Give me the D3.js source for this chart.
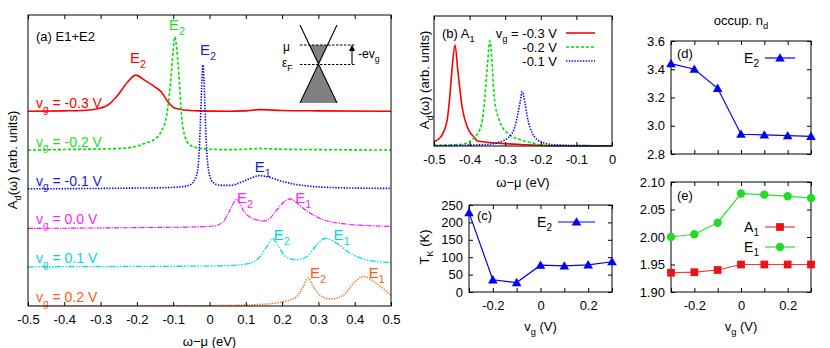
<!DOCTYPE html>
<html>
<head>
<meta charset="utf-8">
<script src="https://cdn.jsdelivr.net/npm/d3@7/dist/d3.min.js"></script>
<style>
  body { margin: 0; background: #fff; }
  text { font-family: "Liberation Sans", Arial, sans-serif; }
</style>
</head>
<body>
<div id="chart"></div>
<script>
// ---- panel (a): A_d(w) for E1+E2, one curve per gate voltage [w, A] ----
const vgLabelsA = ["-0.3", "-0.2", "-0.1", "0.0", "0.1", "0.2"];
const specVm03 = [[-0.5,0.02],[-0.4,0.03],[-0.35,0.04],[-0.316,0.07],[-0.28,0.18],[-0.252,0.44],[-0.225,0.78],[-0.203,0.95],[-0.179,0.82],[-0.151,0.65],[-0.133,0.52],[-0.114,0.26],[-0.096,0.1],[-0.068,0.05],[-0.03,0.03],[0.05,0.02],[0.1,0.03],[0.139,0.06],[0.2,0.04],[0.3,0.03],[0.5,0.02]];
const specVm02 = [[-0.5,0.02],[-0.35,0.04],[-0.25,0.06],[-0.2,0.12],[-0.179,0.19],[-0.151,0.3],[-0.133,0.5],[-0.118,0.92],[-0.107,1.78],[-0.1,2.6],[-0.095,2.94],[-0.09,2.6],[-0.083,1.78],[-0.077,0.92],[-0.067,0.35],[-0.054,0.15],[-0.035,0.08],[-0.017,0.05],[0.05,0.03],[0.1,0.04],[0.139,0.06],[0.2,0.04],[0.3,0.03],[0.5,0.02]];
const specVm01 = [[-0.5,0.02],[-0.3,0.03],[-0.2,0.04],[-0.12,0.05],[-0.08,0.07],[-0.054,0.12],[-0.035,0.38],[-0.028,1.06],[-0.024,2.0],[-0.021,2.8],[-0.018,3.21],[-0.015,2.8],[-0.012,2.0],[-0.008,1.06],[0.0,0.38],[0.01,0.18],[0.03,0.11],[0.056,0.11],[0.09,0.2],[0.115,0.3],[0.139,0.36],[0.165,0.32],[0.194,0.23],[0.24,0.13],[0.285,0.08],[0.35,0.05],[0.5,0.03]];
const specV000 = [[-0.5,0.0],[-0.2,0.02],[-0.03,0.04],[0.01,0.06],[0.038,0.17],[0.056,0.47],[0.068,0.68],[0.075,0.75],[0.083,0.66],[0.093,0.47],[0.11,0.3],[0.13,0.22],[0.148,0.19],[0.165,0.25],[0.185,0.47],[0.205,0.68],[0.222,0.76],[0.24,0.66],[0.258,0.52],[0.28,0.38],[0.304,0.26],[0.34,0.16],[0.378,0.11],[0.44,0.07],[0.5,0.05]];
const specV010 = [[-0.5,0.01],[-0.2,0.02],[0.0,0.03],[0.08,0.06],[0.112,0.1],[0.139,0.27],[0.158,0.53],[0.174,0.74],[0.19,0.53],[0.208,0.29],[0.236,0.19],[0.268,0.27],[0.295,0.57],[0.318,0.74],[0.35,0.62],[0.387,0.36],[0.433,0.19],[0.5,0.12]];
const specV020 = [[-0.5,0.0],[0.0,0.01],[0.112,0.03],[0.17,0.06],[0.203,0.11],[0.24,0.24],[0.258,0.5],[0.272,0.72],[0.286,0.5],[0.304,0.28],[0.332,0.18],[0.369,0.28],[0.396,0.58],[0.424,0.76],[0.46,0.58],[0.5,0.27]];
const specsA = [specVm03, specVm02, specVm01, specV000, specV010, specV020];
// peak annotations per curve: [label, w, A above own baseline]
const peaksA = [
  [["E_2", -0.197, 1.39]],
  [["E_2", -0.0895, 3.24]],
  [["E_2", -0.004, 3.6], ["E_1", 0.147, 0.58]],
  [["E_2", 0.098, 0.78], ["E_1", 0.258, 0.78]],
  [["E_2", 0.199, 0.83], ["E_1", 0.364, 0.83]],
  [["E_2", 0.299, 0.85], ["E_1", 0.461, 0.85]]
];

// ---- panel (b): A_1 spectra ----
const vgLabelsB = ["-0.3", "-0.2", "-0.1"];
const specBm03 = [[-0.5,0.033],[-0.481,0.07],[-0.463,0.2],[-0.455,0.4],[-0.449,0.6],[-0.441,0.777],[-0.433,0.58],[-0.421,0.3],[-0.407,0.15],[-0.395,0.09],[-0.39,0.077],[-0.378,0.038],[-0.313,0.02],[-0.22,0.008],[-0.18,0.002],[0,0.002]];
const specBm02 = [[-0.5,0.005],[-0.422,0.013],[-0.385,0.07],[-0.366,0.17],[-0.357,0.38],[-0.35,0.62],[-0.343,0.81],[-0.336,0.6],[-0.331,0.38],[-0.317,0.2],[-0.294,0.1],[-0.256,0.046],[-0.219,0.02],[-0.191,0.005],[0,0.002]];
const specBm01 = [[-0.5,0.003],[-0.36,0.01],[-0.313,0.033],[-0.28,0.1],[-0.266,0.225],[-0.258,0.34],[-0.252,0.418],[-0.245,0.34],[-0.238,0.225],[-0.224,0.1],[-0.2,0.033],[-0.163,0.01],[-0.1,0.003],[0,0.002]];
const specsB = [specBm03, specBm02, specBm01];

// ---- panels (c)-(e): vs gate voltage ----
const vgVals = [-0.3, -0.2, -0.1, 0, 0.1, 0.2, 0.3];
const tkE2 = [228, 35, 27, 77, 75, 78, 87];
const occE2 = [3.44, 3.40, 3.265, 2.94, 2.935, 2.93, 2.925];
const occA1 = [1.935, 1.936, 1.940, 1.950, 1.950, 1.950, 1.950];
const occE1 = [2.000, 2.005, 2.026, 2.079, 2.077, 2.074, 2.071];

// line styles
const stylesA = [
  { c: "#ff0000", t: "#ff0000", dash: null, w: 1.6 },
  { c: "#00dd00", t: "#22dd22", dash: "3,2", w: 1.6 },
  { c: "#0000ff", t: "#1a1adf", dash: "1.4,1.4", w: 1.6 },
  { c: "#ff00ff", t: "#ff22ff", dash: "5,1.2,1.2,1.2", w: 1.1 },
  { c: "#00e0e0", t: "#00d8d8", dash: "6,1.5,1.5,1.5,1.5,1.5", w: 1.3 },
  { c: "#ff5a10", t: "#ff5a10", dash: "1.3,1.3", w: 1.4 }
];

const svg = d3.select("#chart").append("svg")
  .attr("width", 830).attr("height", 348);

const fmt1 = d => d === 0 ? "0" : d.toFixed(1);

// text with _x or _{xy} subscripts
function rich(t, s, fs) {
  const parts = s.split(/(_\{[^}]*\}|_.)/).filter(p => p);
  const d = fs * 0.32;
  let down = false;
  parts.forEach(p => {
    if (p[0] === "_") {
      const txt = p[1] === "{" ? p.slice(2, -1) : p.slice(1);
      t.append("tspan").attr("dy", down ? 0 : d).attr("font-size", fs * 0.72).text(txt);
      down = true;
    } else {
      t.append("tspan").attr("dy", down ? -d : 0).text(p);
      down = false;
    }
  });
  return t;
}

function label(g, x, y, s, opts) {
  opts = opts || {};
  const fs = opts.fs || 13;
  const t = g.append("text").attr("x", x).attr("y", y)
    .attr("font-size", fs)
    .attr("fill", opts.fill || "#000")
    .attr("text-anchor", opts.anchor || "start");
  if (opts.rotate) t.attr("transform", "rotate(-90," + x + "," + y + ")");
  return rich(t, s, fs);
}

function frame(g, x, y) {
  g.append("rect")
    .attr("x", x.range()[0]).attr("y", y.range()[1])
    .attr("width", x.range()[1] - x.range()[0])
    .attr("height", y.range()[0] - y.range()[1])
    .attr("fill", "none").attr("stroke", "#000").attr("stroke-width", 1);
}

function xAxes(g, x, y, ticks, labelled, format, pad) {
  g.append("g").attr("transform", "translate(0," + y.range()[0] + ")")
    .call(d3.axisBottom(x).tickValues(ticks).tickSizeInner(-4).tickSizeOuter(0)
      .tickPadding(pad || 8)
      .tickFormat(d => labelled.some(v => Math.abs(v - d) < 1e-9) ? format(d) : ""))
    .call(a => a.select(".domain").remove())
    .call(a => a.selectAll("text").attr("font-size", 13).attr("font-family", "Liberation Sans, Arial, sans-serif"));
  g.append("g").attr("transform", "translate(0," + y.range()[1] + ")")
    .call(d3.axisTop(x).tickValues(ticks).tickSizeInner(-4).tickSizeOuter(0).tickFormat(""))
    .call(a => a.select(".domain").remove());
}

function yAxes(g, x, y, ticks, format) {
  g.append("g").attr("transform", "translate(" + x.range()[0] + ",0)")
    .call(d3.axisLeft(y).tickValues(ticks).tickSizeInner(-4).tickSizeOuter(0)
      .tickPadding(6).tickFormat(format))
    .call(a => a.select(".domain").remove())
    .call(a => a.selectAll("text").attr("font-size", 13).attr("font-family", "Liberation Sans, Arial, sans-serif"));
  g.append("g").attr("transform", "translate(" + x.range()[1] + ",0)")
    .call(d3.axisRight(y).tickValues(ticks).tickSizeInner(-4).tickSizeOuter(0).tickFormat(""))
    .call(a => a.select(".domain").remove());
}

// ================= panel (a) =================
const gA = svg.append("g");
const xA = d3.scaleLinear().domain([-0.5, 0.5]).range([28, 391]);
const yA = d3.scaleLinear().domain([0, 7.5]).range([306, 15]);
const ticksA = d3.range(-5, 6).map(i => i / 10);

svg.append("clipPath").attr("id", "clipA").append("rect")
  .attr("x", 28).attr("y", 15).attr("width", 363).attr("height", 291);

specsA.forEach((spec, i) => {
  const off = specsA.length - 1 - i;
  const st = stylesA[i];
  const line = d3.line().x(d => xA(d[0])).y(d => yA(d[1] + off)).curve(d3.curveMonotoneX);
  gA.append("path").datum(spec)
    .attr("d", line).attr("fill", "none")
    .attr("stroke", st.c).attr("stroke-width", st.w)
    .attr("stroke-dasharray", st.dash)
    .attr("clip-path", "url(#clipA)");
  label(gA, xA(-0.478), yA(off + 0.23) + 5, "v_g = " + vgLabelsA[i] + " V", { fill: st.t, fs: 14 });
  peaksA[i].forEach(p => {
    label(gA, xA(p[1]), yA(off + p[2]) + 5, p[0], { fill: st.t, anchor: "middle", fs: 15 });
  });
});

frame(gA, xA, yA);
xAxes(gA, xA, yA, ticksA, ticksA, fmt1, 9);
label(gA, 36, 41, "(a) E1+E2", { fs: 13 });
label(gA, xA(0), 346, "ω−μ (eV)", { anchor: "middle" });
label(gA, 17, 160, "A_d(ω)  (arb. units)", { anchor: "middle", rotate: true });

// inset: Dirac cone sketch
const inset = gA.append("g");
const apex = [318.5, 64.5], muY = 45;
const coneHalf = 18.5, coneTop = 25, coneBot = 103;
const muHalf = coneHalf * (apex[1] - muY) / (apex[1] - coneTop);
inset.append("path")
  .attr("d", "M" + apex + "L" + (apex[0] - coneHalf) + "," + coneBot + "L" + (apex[0] + coneHalf) + "," + coneBot + "Z")
  .attr("fill", "#808080");
inset.append("path")
  .attr("d", "M" + apex + "L" + (apex[0] - muHalf) + "," + muY + "L" + (apex[0] + muHalf) + "," + muY + "Z")
  .attr("fill", "#808080");
inset.append("path")
  .attr("d", "M" + (apex[0] - coneHalf) + "," + coneTop + "L" + (apex[0] + coneHalf) + "," + coneBot +
    "M" + (apex[0] + coneHalf) + "," + coneTop + "L" + (apex[0] - coneHalf) + "," + coneBot)
  .attr("stroke", "#000").attr("stroke-width", 1.1).attr("fill", "none");
[muY, apex[1]].forEach(yy => {
  inset.append("line").attr("x1", 300).attr("x2", 355).attr("y1", yy).attr("y2", yy)
    .attr("stroke", "#000").attr("stroke-dasharray", "2.5,1.5");
});
inset.append("line").attr("x1", 352).attr("x2", 352).attr("y1", 64).attr("y2", 49)
  .attr("stroke", "#000").attr("stroke-width", 1.1);
inset.append("path").attr("d", "M349,51L352,44.5L355,51Z").attr("fill", "#000");
label(inset, 283, 51, "μ", { fs: 12 });
label(inset, 282, 67, "ε_F", { fs: 12 });
label(inset, 358, 58, "-ev_g", { fs: 12 });

// ================= panel (b) =================
const gB = svg.append("g");
const xB = d3.scaleLinear().domain([-0.5, 0]).range([434, 612]);
const yB = d3.scaleLinear().domain([0, 1]).range([146, 16]);
const ticksB = d3.range(-5, 1).map(i => i / 10);
specsB.forEach((spec, i) => {
  const st = stylesA[i];
  const line = d3.line().x(d => xB(d[0])).y(d => yB(d[1])).curve(d3.curveMonotoneX);
  gB.append("path").datum(spec).attr("d", line).attr("fill", "none")
    .attr("stroke", st.c).attr("stroke-width", st.w).attr("stroke-dasharray", st.dash);
  const ly = 33 + i * 14;
  label(gB, 557, ly + 4.5, (i === 0 ? "v_g = " : "") + vgLabelsB[i] + " V", { anchor: "end" });
  gB.append("line").attr("x1", 566).attr("x2", 595).attr("y1", ly).attr("y2", ly)
    .attr("stroke", st.c).attr("stroke-width", st.w).attr("stroke-dasharray", st.dash);
});
frame(gB, xB, yB);
xAxes(gB, xB, yB, ticksB, ticksB, fmt1, 9);
label(gB, 442, 38, "(b) A_1");
label(gB, xB(-0.25), 187, "ω−μ (eV)", { anchor: "middle" });
label(gB, 429, 80, "A_d(ω)  (arb. units)", { anchor: "middle", rotate: true });

// helper for marker series
function series(g, x, y, vals, color, marker, lineColor) {
  const pts = vgVals.map((v, i) => [v, vals[i]]);
  g.append("path").datum(pts)
    .attr("d", d3.line().x(d => x(d[0])).y(d => y(d[1])))
    .attr("fill", "none").attr("stroke", lineColor || color).attr("stroke-width", 1.2);
  drawMarkers(g, pts.map(d => [x(d[0]), y(d[1])]), color, marker);
}
function drawMarkers(g, xy, color, marker) {
  const sym = marker === "tri" ? d3.symbolTriangle : marker === "sq" ? d3.symbolSquare : d3.symbolCircle;
  const size = marker === "tri" ? 40 : marker === "sq" ? 60 : 55;
  g.selectAll(null).data(xy).enter().append("path")
    .attr("transform", d => "translate(" + d[0] + "," + (d[1] + (marker === "tri" ? 0.8 : 0)) + ")")
    .attr("d", d3.symbol().type(sym).size(size))
    .attr("fill", color);
}
function legendRow(g, x0, x1, yy, color, marker, lineColor, text, tx) {
  g.append("line").attr("x1", x0).attr("x2", x1).attr("y1", yy).attr("y2", yy)
    .attr("stroke", lineColor || color).attr("stroke-width", 1.2);
  drawMarkers(g, [[(x0 + x1) / 2, yy]], color, marker);
  label(g, tx, yy + 5, text, { anchor: "end", fs: 14 });
}

const ticksVg = d3.range(-3, 4).map(i => i / 10);
const labVg = [-0.2, 0, 0.2];

// ================= panel (c) =================
const gC = svg.append("g");
const xC = d3.scaleLinear().domain([-0.3, 0.3]).range([469, 612]);
const yC = d3.scaleLinear().domain([0, 250]).range([292, 205]);
frame(gC, xC, yC);
xAxes(gC, xC, yC, ticksVg, labVg, fmt1, 9);
yAxes(gC, xC, yC, d3.range(0, 251, 50), d => d);
series(gC, xC, yC, tkE2, "#0000ff", "tri");
legendRow(gC, 558, 595, 222, "#0000ff", "tri", null, "E_2", 552);
label(gC, 477, 220, "(c)");
label(gC, xC(0), 331, "v_g (V)", { anchor: "middle" });
label(gC, 429, 247, "T_K (K)", { anchor: "middle", rotate: true });

// ================= panel (d) =================
const gD = svg.append("g");
const xD = d3.scaleLinear().domain([-0.3, 0.3]).range([671, 811]);
const yD = d3.scaleLinear().domain([2.8, 3.6]).range([154, 41]);
frame(gD, xD, yD);
xAxes(gD, xD, yD, ticksVg, [], fmt1);
yAxes(gD, xD, yD, [2.8, 3.0, 3.2, 3.4, 3.6], d => d.toFixed(1));
series(gD, xD, yD, occE2, "#0000ff", "tri");
legendRow(gD, 765, 795, 58, "#0000ff", "tri", null, "E_2", 759);
label(gD, 677, 58, "(d)");
label(gD, 741, 25, "occup. n_d", { anchor: "middle" });

// ================= panel (e) =================
const gE = svg.append("g");
const xE = d3.scaleLinear().domain([-0.3, 0.3]).range([671, 811]);
const yE = d3.scaleLinear().domain([1.9, 2.1]).range([292, 182]);
frame(gE, xE, yE);
xAxes(gE, xE, yE, ticksVg, labVg, fmt1, 9);
yAxes(gE, xE, yE, [1.90, 1.95, 2.00, 2.05, 2.10], d => d.toFixed(2));
series(gE, xE, yE, occE1, "#22dd22", "circ", "#33dd33");
series(gE, xE, yE, occA1, "#ee1111", "sq", "#ff3333");
legendRow(gE, 765, 795, 227, "#ee1111", "sq", "#ff3333", "A_1", 759);
legendRow(gE, 765, 795, 247, "#22dd22", "circ", "#33dd33", "E_1", 759);
label(gE, 677, 200, "(e)");
label(gE, xE(0), 331, "v_g (V)", { anchor: "middle" });
</script>
</body>
</html>
